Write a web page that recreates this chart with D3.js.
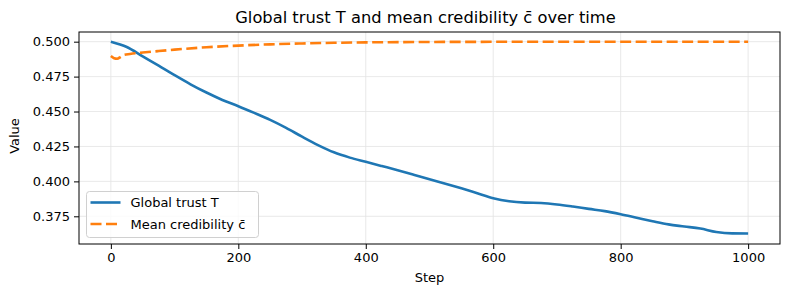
<!DOCTYPE html>
<html>
<head>
<meta charset="utf-8">
<script src="https://cdn.jsdelivr.net/npm/d3@7"></script>
<style>
  body { margin: 0; background: #fff; }
  svg { display: block; font-family: "DejaVu Sans", sans-serif; }
</style>
</head>
<body>
<script>
// figure size and plot box (pixels)
const SCREEN = { width: 790, height: 286, left: 79, right: 780, top: 32, bottom: 244 };

// data
const trustSteps = [0, 25, 50, 75, 100, 125, 150, 175, 200, 225, 250, 275, 300, 325, 350, 375, 400,
                    425, 450, 475, 500, 525, 550, 575, 600, 625, 650, 675, 700, 725, 750, 775, 800,
                    825, 850, 875, 900, 925, 950, 975, 1000];
const trustValues = [0.5000, 0.4962, 0.4895, 0.4828, 0.4760, 0.4695, 0.4636, 0.4583, 0.4538, 0.4490, 0.4440,
                     0.4383, 0.4320, 0.4260, 0.4208, 0.4170, 0.4140, 0.4110, 0.4080, 0.4048, 0.4015,
                     0.3983, 0.3950, 0.3915, 0.3880, 0.3858, 0.3848, 0.3845, 0.3835, 0.3820, 0.3803,
                     0.3787, 0.3765, 0.3740, 0.3715, 0.3692, 0.3677, 0.3662, 0.3638, 0.3628, 0.3627];
const credSteps = [0, 5, 10, 15, 20, 30, 50, 75, 100, 150, 200, 250, 300, 350, 400, 500, 600, 700, 800, 900, 1000];
const credValues = [0.4897, 0.4882, 0.4878, 0.4890, 0.4905, 0.4912, 0.4922, 0.4933, 0.4943, 0.4960, 0.4972,
                    0.4981, 0.4987, 0.4992, 0.4995, 0.4998, 0.4999, 0.5000, 0.5000, 0.5000, 0.5000];
const xTicks = [0, 200, 400, 600, 800, 1000];
const yTicks = [0.375, 0.400, 0.425, 0.450, 0.475, 0.500];
const seriesNames = ["Global trust T", "Mean credibility c\u0304"];
const seriesColors = ["#1f77b4", "#ff7f0e"];

const svg = d3.select("body").append("svg")
    .attr("width", SCREEN.width)
    .attr("height", SCREEN.height);

const x = d3.scaleLinear().domain([-50, 1050]).range([SCREEN.left, SCREEN.right]);
const y = d3.scaleLinear().domain([0.35517, 0.50693]).range([SCREEN.bottom, SCREEN.top]);

// grid
svg.append("g")
    .selectAll("line")
    .data(xTicks)
    .join("line")
        .attr("x1", d => x(d)).attr("x2", d => x(d))
        .attr("y1", SCREEN.top).attr("y2", SCREEN.bottom)
        .attr("stroke", "#e3e3e3").attr("stroke-width", 0.8);
svg.append("g")
    .selectAll("line")
    .data(yTicks)
    .join("line")
        .attr("x1", SCREEN.left).attr("x2", SCREEN.right)
        .attr("y1", d => y(d)).attr("y2", d => y(d))
        .attr("stroke", "#e3e3e3").attr("stroke-width", 0.8);

// lines
const trustLine = d3.line().x((d, i) => x(trustSteps[i])).y(d => y(d)).curve(d3.curveMonotoneX);
const credLine = d3.line().x((d, i) => x(credSteps[i])).y(d => y(d)).curve(d3.curveMonotoneX);

svg.append("path")
    .attr("d", trustLine(trustValues))
    .attr("fill", "none")
    .attr("stroke", seriesColors[0])
    .attr("stroke-width", 2.6);
svg.append("path")
    .attr("d", credLine(credValues))
    .attr("fill", "none")
    .attr("stroke", seriesColors[1])
    .attr("stroke-width", 2.6)
    .attr("stroke-dasharray", "11,4.5");

// axes
const xAxis = d3.axisBottom(x).tickValues(xTicks).tickSize(5).tickPadding(4).tickFormat(d3.format("d"));
const yAxis = d3.axisLeft(y).tickValues(yTicks).tickSize(5).tickPadding(4).tickFormat(d3.format(".3f"));

svg.append("g")
    .attr("transform", `translate(0,${SCREEN.bottom})`)
    .call(xAxis)
    .call(g => g.select(".domain").remove())
    .call(g => g.selectAll("text").attr("font-size", 13).attr("fill", "#000").attr("font-family", "DejaVu Sans"));
svg.append("g")
    .attr("transform", `translate(${SCREEN.left},0)`)
    .call(yAxis)
    .call(g => g.select(".domain").remove())
    .call(g => g.selectAll("text").attr("font-size", 13).attr("fill", "#000").attr("font-family", "DejaVu Sans"));

// frame
svg.append("rect")
    .attr("x", SCREEN.left).attr("y", SCREEN.top)
    .attr("width", SCREEN.right - SCREEN.left)
    .attr("height", SCREEN.bottom - SCREEN.top)
    .attr("fill", "none").attr("stroke", "#000").attr("stroke-width", 1);

// title and axis labels
svg.append("text")
    .attr("x", (SCREEN.left + SCREEN.right) / 2 - 4)
    .attr("y", 23)
    .attr("text-anchor", "middle")
    .attr("font-size", 16.3)
    .text("Global trust T and mean credibility c\u0304 over time");
svg.append("text")
    .attr("x", (SCREEN.left + SCREEN.right) / 2)
    .attr("y", 282)
    .attr("text-anchor", "middle")
    .attr("font-size", 13)
    .text("Step");
svg.append("text")
    .attr("transform", "translate(19,136) rotate(-90)")
    .attr("text-anchor", "middle")
    .attr("font-size", 13)
    .text("Value");

// legend
const legend = svg.append("g").attr("transform", "translate(86.5,191.5)");
legend.append("rect")
    .attr("width", 172).attr("height", 46).attr("rx", 3)
    .attr("fill", "#fff").attr("fill-opacity", 0.8)
    .attr("stroke", "#d0d0d0").attr("stroke-width", 1);
const item = legend.selectAll("g")
    .data(seriesNames)
    .join("g")
        .attr("transform", (d, i) => `translate(0,${11 + i * 21.5})`);
item.append("line")
    .attr("x1", 4).attr("x2", 34)
    .attr("stroke", (d, i) => seriesColors[i])
    .attr("stroke-width", 2.6)
    .attr("stroke-dasharray", (d, i) => i === 1 ? "11,4.5" : null);
item.append("text")
    .attr("x", 44).attr("dy", "0.35em")
    .attr("font-size", 13)
    .text(d => d);
</script>
</body>
</html>
